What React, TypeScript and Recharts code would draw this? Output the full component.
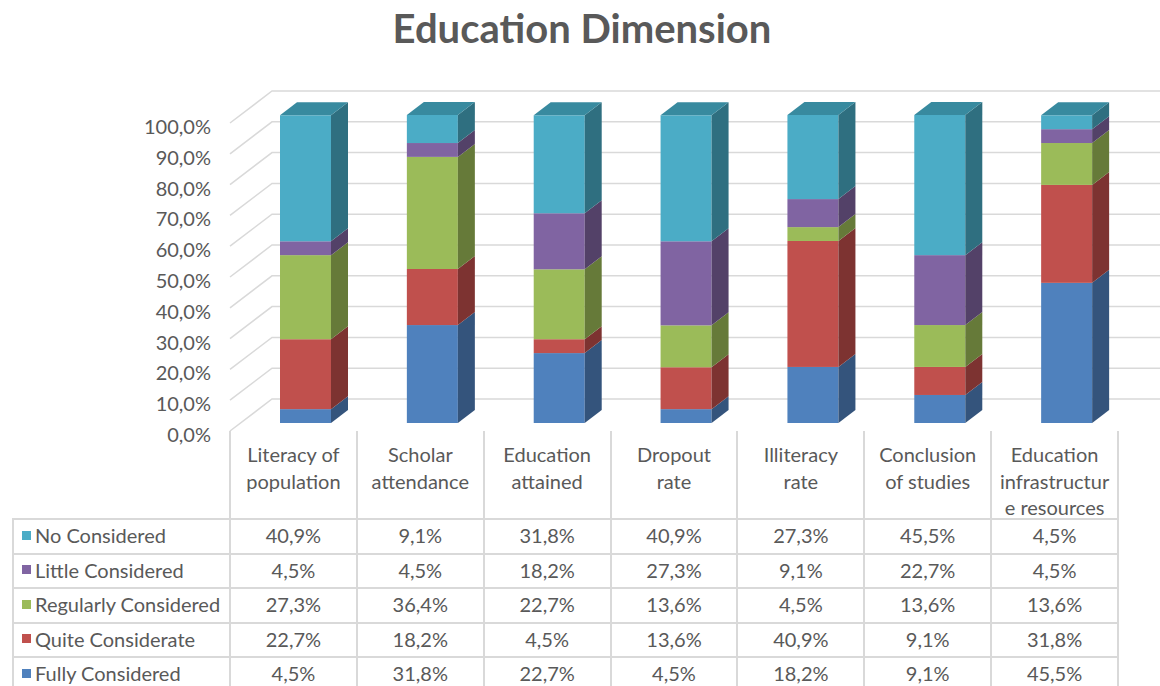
import React from 'react';
import { BarChart, Bar, XAxis, YAxis, CartesianGrid } from 'recharts';

const categories = [
  'Literacy of population',
  'Scholar attendance',
  'Education attained',
  'Dropout rate',
  'Illiteracy rate',
  'Conclusion of studies',
  'Education infrastructure resources',
];
const categoryLines = [
  ['Literacy of', 'population'],
  ['Scholar', 'attendance'],
  ['Education', 'attained'],
  ['Dropout', 'rate'],
  ['Illiteracy', 'rate'],
  ['Conclusion', 'of studies'],
  ['Education', 'infrastructur', 'e resources'],
];

const noConsidered = [40.9, 9.1, 31.8, 40.9, 27.3, 45.5, 4.5];
const littleConsidered = [4.5, 4.5, 18.2, 27.3, 9.1, 22.7, 4.5];
const regularlyConsidered = [27.3, 36.4, 22.7, 13.6, 4.5, 13.6, 13.6];
const quiteConsiderate = [22.7, 18.2, 4.5, 13.6, 40.9, 9.1, 31.8];
const fullyConsidered = [4.5, 31.8, 22.7, 4.5, 18.2, 9.1, 45.5];

const yTicks = [0, 10, 20, 30, 40, 50, 60, 70, 80, 90, 100];

// bottom to top in the stack
const series = [
  { key: 'fully', name: 'Fully Considered', values: fullyConsidered, color: '#4F81BD', side: '#34547C', top: '#3E6A9E' },
  { key: 'quite', name: 'Quite Considerate', values: quiteConsiderate, color: '#C0504D', side: '#7D3331', top: '#A04340' },
  { key: 'regularly', name: 'Regularly Considered', values: regularlyConsidered, color: '#9BBB59', side: '#667A39', top: '#809C48' },
  { key: 'little', name: 'Little Considered', values: littleConsidered, color: '#8064A2', side: '#534168', top: '#6A5388' },
  { key: 'no', name: 'No Considered', values: noConsidered, color: '#4BACC6', side: '#2F6F80', top: '#388A9F' },
];

const data = categories.map((name, i) => {
  const row: Record<string, any> = { name };
  series.forEach((s) => (row[s.key] = s.values[i]));
  return row;
});

const FONT = 'Lato, "Open Sans", sans-serif';
const TEXT = '#595959';
const GRID = '#d9d9d9';

const PLOT_L = 230;
const PLOT_R = 1118;
const PLOT_T = 123;
const PLOT_B = 431;
const COL_W = (PLOT_R - PLOT_L) / 7;
const WALL_DX = 42;
const WALL_DY = -32;
const BAR_DX = 12;
const BAR_DY = -8;
const DEPTH_X = 17;
const DEPTH_Y = -13;

const fmt = (v: number) => v.toFixed(1).replace('.', ',') + '%';

const Box3D = (props: any) => {
  const { x, y, width, height, fill, side, top, showTop } = props;
  if (!height || height <= 0) return null;
  const X = x + BAR_DX;
  const Y = y + BAR_DY;
  const w = width;
  const h = height;
  return (
    <g>
      <rect x={X} y={Y} width={w} height={h} fill={fill} />
      <path
        d={`M${X + w},${Y} L${X + w + DEPTH_X},${Y + DEPTH_Y} L${X + w + DEPTH_X},${Y + h + DEPTH_Y} L${X + w},${Y + h} Z`}
        fill={side}
      />
      {showTop && (
        <path
          d={`M${X},${Y} L${X + DEPTH_X},${Y + DEPTH_Y} L${X + w + DEPTH_X},${Y + DEPTH_Y} L${X + w},${Y} Z`}
          fill={top}
        />
      )}
    </g>
  );
};

const YTick = (props: any) => {
  const { y, payload } = props;
  return (
    <text x={211} y={y + 3} textAnchor="end" dominantBaseline="central" fill={TEXT} fontSize={20} fontFamily={FONT}>
      {fmt(payload.value)}
    </text>
  );
};

const XTick = (props: any) => {
  const { x, payload } = props;
  const lines = categoryLines[payload.index] || [payload.value];
  return (
    <text textAnchor="middle" fill={TEXT} fontSize={20} fontFamily={FONT}>
      {lines.map((l, i) => (
        <tspan key={i} x={x} y={454 + i * 26.5} dominantBaseline="central">
          {l}
        </tspan>
      ))}
    </text>
  );
};

const gridLine = (p: any) => (
  <path
    key={p.key ?? `g-${p.y1}`}
    d={`M${PLOT_L},${p.y1} L${PLOT_L + WALL_DX},${p.y1 + WALL_DY} L1160,${p.y1 + WALL_DY}`}
    stroke={GRID}
    strokeWidth={1.5}
    fill="none"
  />
);

const TABLE_TOP = 518;
const ROW_H = 34.5;
const LEG_L = 12;
const tableRows = [...series].reverse();

const cell = (left: number, top: number, width: number, height: number, borders: string) => ({
  position: 'absolute' as const,
  left,
  top,
  width,
  height,
  boxSizing: 'border-box' as const,
  borderStyle: 'solid',
  borderColor: GRID,
  borderWidth: borders,
  display: 'flex',
  alignItems: 'center',
  color: TEXT,
  fontFamily: FONT,
  fontSize: 20,
  whiteSpace: 'nowrap' as const,
  paddingBottom: 2,
});

export default function App() {
  return (
    <div style={{ position: 'fixed', left: 0, top: 0, width: 1160, height: 686, overflow: 'hidden', background: '#fff' }}>
      <div
        style={{
          position: 'absolute',
          left: 0,
          top: 4,
          width: 1160,
          textAlign: 'center',
          fontFamily: FONT,
          fontWeight: 700,
          fontSize: 40,
          color: TEXT,
          paddingLeft: 2,
        }}
      >
        Education Dimension
      </div>
      <div style={{ position: 'absolute', left: 0, top: 0 }}>
        <BarChart
          width={1160}
          height={686}
          data={data}
          margin={{ top: PLOT_T, right: 1160 - PLOT_R, left: 0, bottom: 686 - PLOT_B - 86 }}
        >
          <CartesianGrid vertical={false} horizontal={gridLine} />
          <XAxis dataKey="name" height={86} axisLine={false} tickLine={false} tick={<XTick />} interval={0} />
          <YAxis
            width={PLOT_L}
            domain={[0, 100]}
            ticks={yTicks}
            axisLine={false}
            tickLine={false}
            tick={<YTick />}
          />
          {series.map((s, i) => (
            <Bar
              key={s.key}
              dataKey={s.key}
              name={s.name}
              stackId="a"
              fill={s.color}
              barSize={51}
              isAnimationActive={false}
              shape={(p: any) => <Box3D {...p} side={s.side} top={s.top} showTop={i === series.length - 1} />}
            />
          ))}
        </BarChart>
      </div>
      {/* header column lines below the floor */}
      {categories.map((c, i) => (
        <div key={c} style={cell(PLOT_L + i * COL_W - 1, PLOT_B, COL_W + 2, TABLE_TOP - PLOT_B + 1, '0 2px 0 2px')} />
      ))}
      {/* data table */}
      {tableRows.map((s, r) => (
        <React.Fragment key={s.key}>
          <div style={{ ...cell(LEG_L, TABLE_TOP + r * ROW_H, PLOT_L - LEG_L + 1, ROW_H + 2, '2px'), paddingLeft: 8 }}>
            <span style={{ display: 'inline-block', width: 9, height: 9, background: s.color, marginRight: 4 }} />
            {s.name}
          </div>
          {s.values.map((v, c) => (
            <div
              key={c}
              style={{ ...cell(PLOT_L + c * COL_W - 1, TABLE_TOP + r * ROW_H, COL_W + 2, ROW_H + 2, '2px'), justifyContent: 'center' }}
            >
              {fmt(v)}
            </div>
          ))}
        </React.Fragment>
      ))}
    </div>
  );
}
